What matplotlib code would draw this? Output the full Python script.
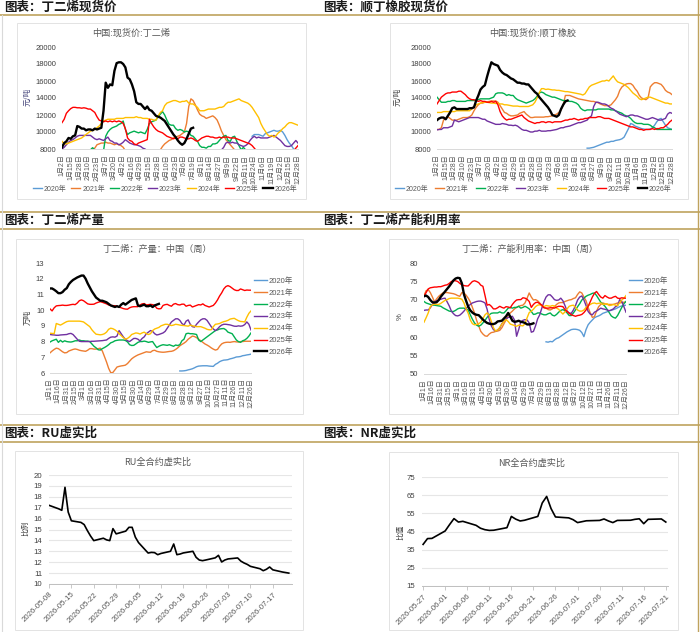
import numpy as np
import pandas as pd
import matplotlib
matplotlib.use("Agg")
import matplotlib.pyplot as plt
from matplotlib.patches import Rectangle
from matplotlib.lines import Line2D

plt.rcParams["font.family"] = ["Liberation Sans", "Noto Sans CJK SC"]
plt.rcParams["axes.unicode_minus"] = False

# ---------------- data ----------------
years = ["2020年", "2021年", "2022年", "2023年", "2024年", "2025年", "2026年"]
year_colors = ["#5B9BD5", "#ED7D31", "#00B050", "#7030A0", "#FFC000", "#FF0000", "#000000"]

price_days = ["1月2日", "1月15日", "1月28日", "2月10日", "2月23日", "3月7日", "3月20日", "4月2日",
              "4月16日", "4月29日", "5月15日", "5月28日", "6月10日", "6月23日", "7月6日", "7月19日",
              "8月1日", "8月14日", "8月27日", "9月9日", "9月22日", "10月11日", "10月24日", "11月6日",
              "11月19日", "12月2日", "12月15日", "12月28日"]
week_days = ["1月1日", "1月16日", "1月31日", "2月15日", "3月1日", "3月16日", "3月31日", "4月15日",
             "4月30日", "5月15日", "5月30日", "6月14日", "6月29日", "7月14日", "7月29日", "8月13日",
             "8月28日", "9月12日", "9月27日", "10月12日", "10月27日", "11月11日", "11月26日",
             "12月11日", "12月26日"]

# 丁二烯现货价 (元/吨), quarter-label steps
bd_2020 = [None] * 80 + [None, None, None, None, None, None, None, 9500, 9700, 9700,
                         9700, 9600, 9500, 9800, 9900, 10000, 10100, 10200, 10100, 10100,
                         10200, 10000, 9600, 9100, 8700, 8400, 8000, 7800, None]
bd_2021 = [None] * 10 + [None, None, None, 7900, 8000, 8100, 8500, 8600, 8700, 8700,
                         8800, 8700, 8700, 8600, 8500, 8600, 8500, 8400, 8200, 7800] + [None] * 10 + \
          [None, None, None, None, None, 7900, 8300, 8600, 8800, 9000,
           9100, 9300, 9400, 9500, 9600, 9800, 10000, 11000, 13000, 13900,
           13700, 13200, 12600, 12100, 11900, 11800, 11600, 11700, 11800, 11900,
           11700, 11400, 10800, 10100, 9600, 9100, 8800, 8500, 8200, 7900] + [None] * 29
bd_2022 = [None] * 10 + [None, None, None, 7900, 8150, 7900, None, None, None, 7800,
                         9500, 10000, 10300, 10500, 10600, 10700, 10900, 11000, 11300, 10300,
                         9700, 9900, 10000, 10100, 10000, 9900, 10000, 9900, 9800, 10300,
                         11000, 11200, 11300, 11400, 11800, 12100, 12400, 12000, 11400, 10900,
                         10800, 10800, 10400, 10200, 10300, 10200, 10000, 10100, 10000, 9600,
                         9500, 9200, 8900, 8400, 8200, 8200, 8100, 8300, 8300, 8600,
                         8600, 8700, 9000, 9300, 9500, 9600, 9000, 8900, 9400, 9500,
                         8900, 8400, 7900, 8200, 7900] + [None] * 24
bd_2023 = [8000, 8200, 8500, 8800, 9000, 9100, 9300, 9500, 9600, 9600,
           9600, 9600, 9600, 9600, 9400, 9200, 9100, 9200, 9100, 9000,
           9200, 9400, 9000, 8900, 8700, 8700, 8500, 8600, 8800, 9100,
           8900, 8700, 8600, 8500, 8500, 8400, 8300, 8100, 8000, 7800] + [None] * 33 + \
          [7900, 8200, 8700, 8800, 8700, 8800, 8700,
           8700, 8500, 8400, 8300, 8400, 8600, 9000, 9300, 9500, 9300,
           9400, 9300, 9300, 9300, 9300, 9400, 9500, 9600, 9400, 9200,
           9000, 8700, 8400, 8300, 8300, 8400, 8700, 9000, 8700]
bd_2024 = [8900, 8600, 8600, 8700, 8800, 8900, 9000, 9100, 9200, 9300,
           9500, 9700, 9900, 10100, 10200, 10300, 10500, 10700, 11000, 11300,
           11400, 11500, 11500, 11500, 11500, 11600, 11600, 11600, 11600, 11700,
           11700, 11700, 11700, 11700, 11800, 11700, 11700, 11600, 11600, 11600,
           11500, 11500, 11400, 11400, 11900, 12300, 12500, 13100, 13400, 13500,
           13600, 13700, 13700, 13600, 13500, 13600, 13600, 13700, 13400, 13300,
           13300, 13100, 12900, 12500, 12500, 12500, 12600, 12700, 12700, 12700,
           12700, 12800, 12900, 12900, 13000, 13300, 13500, 13500, 13600, 13700,
           13800, 13900, 13700, 13600, 13500, 13400, 13200, 12900, 12500, 12100,
           11700, 11000, 10500, 10100, 9700, 9500, 9600, 9400, 9600, 9900,
           10100, 10400, 10600, 10900, 11100, 11100, 11000, 10900, 10800]
bd_2025 = [11100, 11500, 12200, 12500, 12750, 12900, 12900, 12850, 12850, 12800,
           12850, 12800, 12700, 12700, 12500, 12300, 11800, 11400, 11300, 11200,
           11300, 11200, 11300, 11200, 11300, 11200, 11300, 11200, 11000, 10400,
           9300, 9000, 8900, 8600, 8500, 8700, 8800, 8900, 9000, 9100,
           11500, 11000, 10600, 10300, 10100, 10000, 9900, 9700, 9500, 9400,
           9300, 9200, 9300, 9200, 9400, 9400, 9300, 9200, 9200, 9300,
           9200, 9000, 8900, 9100, 9300, 9400, 9500, 9500, 9400, 9400,
           9300, 9300, 9400, 9300, 9400, 9400, 9400, 9300, 9300, 9300,
           9200, 9100, 9000, 8900, 8800, 8700, 8600, 8400, 8100, 7800] + [None] * 16 + [7800, 8100, 8400]
bd_2026 = [8200, 8700, 8900, 9300, 9200, 9500, 9600, 10700, 10600, 10400,
           10400, 10200, 10300, 10300, 10200, 10400, 10300, 10400, 10500, 12500,
           15800, 15200, 15600, 15500, 17200, 18100, 18200, 18200, 18000, 17600,
           16400, 16200, 15600, 14800, 13500, 13300, 13300, 13000, 12700, 13000,
           12600, 12500, 12200, 11900, 11800, 11700, 11500, 11300, 10900, 10500,
           10100, 9700, 9400, 9000, 8700, 8500, 8700, 9200, 9800, 10400, 10500]

# 顺丁橡胶现货价 (元/吨)
br_2020 = [None] * 69 + [8100, 8100, 8150, 8200, 8300, 8400, 8500, 8600, 8700, 8800, 8800,
                         8900, 8900, 9000, 9050, 9100, 9200, 9400, 9900, 10400, 11000,
                         10900, 10700, 10600, 10500, 10400, 10350, 10300, 10300, 10350, 10500,
                         10800, 11200, 11500, 11600, 11200, 10800, 10500, 10400, 10300]
br_2021 = [10300, 10300, 10500, 11400, 11600, 11800, 11600, 11400, 11400, 11400,
           11500, 11600, 11700, 11700, 11700, 11800, 12000, 12500, 12900, 13200,
           13400, 13400, 13500, 13550, 13600, 13650, 13650, 13650, 13500, 13100,
           12700, 12300, 12200, 12000, 11900, 11900, 11950, 12000, 12200, 12300,
           12400, 12100, 11900, 11700, 11700, 11750, 11750, 11750, 11750, 11750,
           11800, 11800, 11850, 11900, 12000, 12100, 12300, 12600, 13200, 14300,
           14300, 14300, 14200, 14100, 14000, 13900, 13850, 13800, 13750, 13700,
           13650, 13600, 13600, 13500, 13450, 13300, 13200, 13100, 13100, 13100,
           13200, 13500, 13800, 14200, 14900, 15300, 15500, 15650, 15700, 15700,
           15500, 15100, 14800, 14300, 14000, 13900, 13800, 14000, 15300, 15600,
           15800, 15800, 15700, 15600, 15300, 14900, 14700, 14600, 14400]
br_2022 = [14100, 13800, 13500, 13500, 13500, 13600, 13600, 13700, 13700, 13600,
           13600, 13600, 13600, 13600, 13700, 13700, 13700, 13700, 13700, 13800,
           13900, 13900, 13900, 13900, 13900, 14000, 14100, 14500, 14600, 14600,
           14600, 14500, 14300, 14400, 14300, 14300, 14000, 13800, 13700, 13600,
           13500, 13400, 13500, 13600, 13700, 13900, 14200, 14600, 14700, 14600,
           14400, 14300, 14200, 14100, 14100, 14000, 13900, 13800, 13700, 13700,
           13700, 13600, 13600, 13500, 13400, 13200, 12800, 12600, 12500, 12600,
           12600, 12600, 12600, 12600, 12700, 12700, 12700, 12700, 12700, 12700,
           12600, 12600, 12500, 12400, 12300, 12200, 12000, 11900, 11800, 11600,
           11300, 11100, 11000, 11000, 11000, 10900, 10900, 10900, 10800, 10600,
           10500, 10300, 10300, 10300, 10300, 10300, 10300, 10300, 10300]
br_2023 = [10250, 10300, 10300, 10500, 10500, 10500, 10600, 10700, 11400, 11300,
           11200, 11300, 11400, 11500, 11600, 11700, 11700, 11700, 11700, 11700,
           11600, 11500, 11500, 11300, 11200, 11100, 11000, 10900, 10900, 10900,
           11000, 10950, 10900, 10800, 10800, 10750, 10800, 10700, 10500, 10300,
           10200, 10200, 10100, 10000, 10000, 10100, 10100, 10200, 10100, 10100,
           10100, 10150, 10150, 10200, 10250, 10300, 10400, 10500, 10500, 10600,
           10650, 10700, 10800, 10900, 11000, 11100, 11100, 11200, 11300, 11400,
           11700, 11900, 13000, 13500, 13500, 13400, 13300, 13300, 13200, 13000,
           12800, 12700, 12500, 12300, 12100, 12000, 11900, 11800, 11900, 12000,
           12000, 11900, 11900, 11800, 11700, 11600, 11500, 11500, 11600, 11700,
           11600, 11500, 11400, 11400, 11500, 11600, 12100, 12300, 12200]
br_2024 = [12300, 12300, 12300, 12400, 12400, 12400, 12400, 12400, 12400, 12500,
           12500, 12500, 12500, 12500, 12500, 12500, 12700, 13000, 13200, 13300,
           13400, 13500, 13500, 13500, 13450, 13400, 13400, 13350, 13400, 13300,
           13300, 13200, 13200, 13150, 13100, 13050, 13050, 13050, 13000, 13000,
           13000, 13000, 13000, 13100, 13200, 13500, 14000, 14600, 15100, 15100,
           15000, 15050, 15000, 14950, 14950, 14900, 14900, 14850, 14800, 14750,
           14750, 14700, 14650, 14600, 14550, 14500, 14450, 14350, 14500, 14900,
           15300, 15500, 15600, 15700, 15800, 15900, 16000, 16000, 16100, 16000,
           16300, 16600, 16200, 15900, 15800, 15700, 15600, 15400, 15200, 14900,
           14600, 14400, 14200, 13900, 13800, 13900, 14000, 14100, 14100, 14000,
           13900, 13800, 13700, 13600, 13500, 13400, 13400, 13300, 13300]
br_2025 = [13300, 13700, 14100, 14300, 14500, 14600, 14600, 14700, 14700, 14700,
           14800, 14800, 14600, 14400, 14100, 13900, 13800, 13800, 13700, 13600,
           13700, 13600, 13600, 13500, 13500, 13600, 13500, 13600, 13200, 12400,
           11900, 11600, 11400, 11500, 11500, 11600, 11700, 11800, 11900, 12000,
           11700, 11500, 11300, 11200, 11100, 11000, 11100, 11100, 11200, 11200,
           11100, 11200, 11200, 11100, 11200, 11200, 11200, 11200, 11300, 11400,
           11400, 11500, 11500, 11600, 11500, 11400, 11500, 11500, 11600, 11600,
           11700, 11700, 11700, 11700, 11800, 11800, 11700, 11600, 11600, 11600,
           11500, 11400, 11300, 11200, 11100, 11000, 10900, 10800, 10700, 10600,
           10600, 10500, 10400, 10300, 10300, 10200, 10300, 10300, 10300, 10400,
           10300, 10400, 10400, 10500, 10500, 10700, 10900, 11200, 11400]
br_2026 = [11400, 11600, 11700, 11700, 11500, 11900, 12300, 12800, 12900, 12700,
           12700, 12700, 12700, 12700, 12700, 12800, 12800, 12900, 13700, 14300,
           15000, 15300, 15500, 16500, 17400, 18200, 18000, 17900, 17800, 17300,
           17000, 16800, 16700, 16500, 16300, 16200, 16000, 15800, 15800, 15700,
           15700, 15600, 15600, 15300, 15000, 14700, 14500, 14100, 13800, 13500,
           13200, 12900, 12500, 12000, 11900, 11800, 12000, 12700, 13200, 13600, 13700]

# 丁二烯产量 (万吨, weekly)
bp_2020 = [None] * 62 + [6.13, 6.13, 6.14, 6.16, 6.2, 6.23, 6.27, 6.33, 6.4, 6.44,
                         6.45, 6.46, 6.46, 6.46, 6.44, 6.43, 6.42, 6.55, 6.62, 6.72,
                         6.78, 6.82, 6.83, 6.85, 6.9, 6.93, 6.97, 7.02, 7.03, 7.05,
                         7.1, 7.12, 7.15, 7.17, 7.2]
bp_2021 = [7.28, 7.4, 7.5, 7.58, 7.55, 7.45, 7.35, 7.28, 7.3, 7.4,
           7.45, 7.5, 7.53, 7.5, 7.45, 7.42, 7.4, 7.38, 7.45, 7.55,
           7.55, 7.52, 7.52, 7.55, 7.58, 7.4, 7.05, 6.7, 6.3, 6.02,
           6.03, 6.2, 6.38, 6.42, 6.45, 6.47, 6.5, 6.6, 6.75, 6.9,
           7.0, 7.08, 7.15, 7.2, 7.25, 7.3, 7.35, 7.33, 7.32, 7.42,
           7.45, 7.38, 7.35, 7.33, 7.32, 7.33, 7.35, 7.37, 7.38, 7.42,
           7.5, 7.6, 7.73, 7.82, 7.9, 8.0, 8.15, 8.25, 8.35, 8.32,
           8.25, 8.15, 8.05, 7.95, 7.85, 7.78, 7.7, 7.6, 7.52, 7.46,
           7.5, 7.7, 7.85, 7.92, 7.95, 7.96, 7.95, 7.98, 8.0, 7.98,
           7.97, 8.0, 8.0, 8.02, 8.02, 8.02, 8.02]
bp_2022 = [7.97, 8.05, 8.1, 8.15, 7.95, 8.08, 7.97, 8.05, 8.0, 7.98,
           7.97, 8.0, 8.05, 8.05, 8.1, 8.05, 8.05, 8.03, 8.03, 8.0,
           7.85, 7.7, 7.6, 7.48, 7.46, 7.55, 7.62, 7.7, 7.8, 7.92,
           7.97, 8.05, 8.08, 8.1, 8.1, 8.1, 8.07, 7.98, 7.8, 7.75,
           7.76, 7.85, 7.95, 8.0, 8.0, 8.03, 8.0, 7.95, 7.98, 8.0,
           7.8, 7.62, 7.7, 7.76, 7.8, 7.78, 7.76, 7.8, 7.75, 7.7,
           7.78, 7.75, 7.8, 8.05, 8.15, 8.5, 8.53, 8.5, 8.5, 8.48,
           8.45, 8.1, 8.0, 8.1, 8.2, 8.3, 8.4, 8.5, 8.6, 8.7,
           8.74, 8.8, 8.82, 8.83, 8.75, 8.6, 8.55, 8.5, 8.3, 8.1,
           8.0, 7.95, 8.05, 8.1, 8.2, 8.35, 8.55]
bp_2023 = [8.45, 8.43, 8.42, 8.4, 8.4, 8.42, 8.43, 8.44, 8.45, 8.5,
           8.52, 8.45, 8.3, 8.15, 8.02, 8.0, 8.0, 8.0, 8.0, 8.0,
           8.02, 8.02, 8.03, 8.04, 8.05, 8.06, 8.08, 8.1, 8.2, 8.28,
           8.3, 8.28, 8.35, 8.7, 8.5, 8.3, 8.15, 8.05, 8.0, 8.1,
           8.2, 8.2, 8.15, 8.04, 8.2, 8.3, 8.5, 8.6, 8.7, 8.65,
           8.5, 8.42, 8.45, 8.5, 8.55, 8.65, 8.85, 9.05, 9.25, 9.35,
           9.45, 9.45, 9.35, 9.15, 9.05, 9.3, 9.38, 9.1, 8.95, 8.92,
           9.1, 9.25, 9.38, 9.45, 9.45, 9.35, 9.15, 8.95, 8.8, 8.7,
           8.8, 8.95, 9.05, 9.1, 9.1, 9.08, 9.06, 9.02, 8.98, 8.97,
           9.0, 8.98, 9.0, 9.08, 9.25, 9.1, 8.74]
bp_2024 = [8.53, 8.52, 8.5, 9.15, 9.1, 9.05, 9.12, 9.2, 9.27, 9.3,
           9.3, 9.3, 9.3, 9.3, 9.3, 9.28, 9.25, 9.15, 9.05, 8.95,
           8.75, 8.6, 8.47, 8.45, 8.43, 8.45, 8.5, 8.6, 8.78, 8.85,
           8.82, 8.75, 8.65, 8.5, 8.38, 8.25, 8.15, 8.2, 8.3, 8.45,
           8.5, 8.55, 8.53, 8.48, 8.55, 8.6, 8.5, 8.45, 8.5, 8.7,
           8.8, 8.85, 8.9, 9.0, 9.05, 9.1, 9.1, 9.05, 9.02, 9.05,
           9.1, 9.08, 9.05, 9.03, 9.02, 9.0, 8.98, 9.05, 9.0, 8.98,
           8.95, 8.95, 8.95, 8.9, 8.85, 8.78, 8.75, 8.75, 8.95, 9.1,
           9.12, 9.15, 9.22, 9.27, 9.3, 9.35, 9.43, 9.46, 9.48, 9.4,
           9.33, 9.28, 9.27, 9.25, 9.55, 9.8, 9.95]
bp_2025 = [10.08, 9.95, 10.15, 10.27, 10.29, 10.3, 10.32, 10.3, 10.3, 10.32,
           10.35, 10.37, 10.35, 10.45, 10.6, 10.65, 10.6, 10.5, 10.4, 10.37,
           10.37, 10.38, 10.45, 10.5, 10.54, 10.5, 10.45, 10.4, 10.33, 10.3,
           10.29, 10.28, 10.25, 10.2, 10.15, 10.1, 10.07, 10.06, 10.15, 10.2,
           10.22, 10.22, 10.22, 10.33, 10.4, 10.42, 10.33, 10.35, 10.37, 10.35,
           10.3, 10.12, 10.08, 10.1, 10.3, 10.35, 10.37, 10.3, 10.25, 10.38,
           10.42, 10.35, 10.33, 10.38, 10.38, 10.25, 10.3, 10.32, 10.2, 10.25,
           10.3, 10.35, 10.33, 10.4, 10.3, 10.25, 10.2, 10.25, 10.3, 10.45,
           10.65, 10.9, 11.1, 11.35, 11.5, 11.56, 11.5, 11.4, 11.3, 11.25,
           11.25, 11.35, 11.3, 11.25, 11.28, 11.27, 11.27]
bp_2026 = [11.38, 11.38, 11.3, 11.2, 11.08, 11.08, 11.15, 11.3, 11.4, 11.65,
           11.8, 11.92, 12.0, 12.08, 12.14, 12.2, 12.2, 12.0, 11.7, 11.45,
           11.2, 11.0, 10.8, 10.7, 10.6, 10.6, 10.55, 10.5, 10.4, 10.3,
           10.25, 10.2, 10.25, 10.2, 10.35, 10.45, 10.35, 10.45, 10.55, 10.65,
           10.7, 10.75, 10.3, 10.25, 10.3, 10.35, 10.25, 10.25, 10.3, 10.2,
           10.3, 10.35, 10.4]

# 丁二烯产能利用率 (%, weekly)
bu_2020 = [None] * 58 + [58.7, 58.6, 58.8, 58.7, 59.2, 59.6, 59.8, 60.2, 60.6, 61.0,
                         61.4, 61.7, 62.0, 62.1, 62.1, 62.0, 61.8, 61.2, 60.1, 62.0,
                         63.3, 64.0, 64.6, 65.2, 65.5, 65.7, 66.0, 66.4, 66.6, 66.8,
                         67.1, 67.2, 67.4, 67.6, 67.9, 68.2, 68.4, 68.5, 68.6]
bu_2021 = [71.2, 72.5, 72.8, 72.0, 70.8, 69.5, 70.3, 71.0, 71.5, 71.9,
           72.0, 72.0, 71.9, 71.8, 71.7, 71.5, 71.2, 71.0, 72.0, 71.9,
           71.3, 70.5, 69.5, 68.0, 66.5, 64.5, 63.0, 61.5, 60.8, 60.3,
           60.2, 60.8, 61.2, 61.3, 61.5, 61.6, 61.8, 62.5, 63.6, 64.6,
           65.8, 66.5, 67.0, 67.6, 68.0, 68.3, 68.5, 68.6, 69.2, 70.5,
           71.9, 70.8, 70.0, 70.1, 69.8, 69.2, 68.4, 68.0, 67.8, 67.4,
           67.3, 67.6, 68.2, 68.8, 69.2, 69.3, 69.3, 69.6, 69.8, 70.0,
           70.1, 70.4, 70.6, 71.5, 72.2, 71.9, 70.8, 69.8, 68.0, 66.5,
           65.3, 65.5, 67.0, 68.2, 68.8, 69.2, 69.0, 68.8, 68.8, 68.8,
           68.8, 69.0, 69.2, 69.2, 69.3, 69.4, 69.5]
bu_2022 = [69.6, 69.2, 69.0, 68.8, 68.6, 68.6, 68.5, 68.4, 68.3, 67.9,
           67.6, 67.3, 67.0, 66.9, 66.9, 67.2, 67.6, 67.8, 67.8, 67.8,
           67.6, 67.3, 66.0, 64.8, 63.8, 63.2, 62.9, 63.2, 63.8, 64.5,
           65.3, 66.0, 66.4, 66.5, 66.5, 66.5, 66.8, 66.5, 66.5, 67.1,
           67.8, 68.0, 67.8, 68.0, 68.0, 68.3, 67.8, 68.0, 68.3, 68.0,
           67.6, 66.9, 66.1, 66.2, 66.5, 66.5, 66.2, 66.0, 66.0, 66.3,
           66.5, 65.9, 65.7, 66.1, 66.7, 67.2, 67.4, 67.1, 66.5, 65.8,
           65.8, 66.5, 67.3, 68.2, 69.0, 70.0, 70.5, 71.0, 71.3, 71.5,
           71.8, 71.9, 71.2, 70.3, 69.4, 68.9, 68.3, 67.5, 66.6, 65.7,
           65.3, 65.1, 65.8, 66.9, 68.0, 69.0, 69.6]
bu_2023 = [67.2, 67.3, 67.3, 67.9, 68.8, 69.5, 69.8, 70.0, 70.2, 70.4,
           70.5, 69.5, 68.4, 67.0, 66.3, 65.8, 65.7, 65.9, 66.4, 67.0,
           67.7, 68.3, 68.8, 69.2, 69.4, 69.6, 69.7, 69.7, 69.5, 69.2,
           67.5, 64.8, 63.0, 62.0, 61.6, 61.9, 62.4, 63.6, 64.3, 64.9,
           65.3, 65.4, 65.6, 64.6, 60.2, 62.0, 64.1, 64.5, 64.7, 64.6,
           63.8, 61.3, 61.5, 63.0, 64.9, 66.0, 67.8, 69.5, 70.8, 71.4,
           71.4, 70.8, 70.1, 69.9, 70.0, 70.5, 69.8, 68.5, 67.0, 66.5,
           66.4, 67.3, 68.5, 70.0, 70.8, 71.1, 70.0, 68.5, 66.9, 66.2,
           66.0, 66.7, 67.0, 67.4, 67.8, 67.6, 67.5, 67.3, 67.1, 67.3,
           67.6, 68.2, 68.5, 70.1, 69.6, 68.2, 66.7]
bu_2024 = [64.0, 65.2, 66.5, 68.2, 68.7, 68.9, 68.8, 68.8, 69.1, 69.5,
           69.9, 70.1, 70.4, 70.5, 70.5, 70.5, 70.5, 70.4, 70.2, 69.2,
           67.6, 66.4, 64.6, 63.6, 63.3, 63.4, 63.6, 64.0, 65.0, 66.0,
           66.5, 65.9, 64.2, 62.5, 61.6, 61.9, 62.6, 63.5, 64.2, 64.7,
           64.2, 63.5, 63.3, 63.1, 62.9, 63.2, 63.1, 63.0, 63.6, 65.2,
           66.6, 67.0, 67.5, 68.2, 68.6, 68.7, 68.5, 68.2, 68.5, 68.4,
           68.3, 68.5, 68.4, 67.8, 67.5, 66.8, 66.2, 66.8, 67.6, 68.3,
           68.5, 68.6, 68.0, 67.3, 67.0, 67.0, 67.3, 68.0, 68.4, 68.8,
           69.1, 69.2, 69.0, 69.1, 69.2, 68.8, 68.9, 69.0, 68.5, 68.6,
           68.8, 68.6, 68.5, 69.3, 70.0, 70.5, 71.2]
bu_2025 = [71.0, 72.0, 73.0, 73.3, 73.4, 73.5, 73.5, 73.6, 73.6, 73.8,
           74.0, 74.1, 74.5, 75.0, 75.2, 75.2, 75.0, 74.5, 74.1, 73.9,
           73.8, 73.8, 74.4, 75.0, 75.2, 75.0, 74.7, 74.0, 73.7, 71.2,
           68.6, 68.8, 68.3, 67.6, 67.6, 67.9, 68.3, 68.0, 67.8, 68.2,
           68.1, 67.9, 68.8, 69.5, 70.0, 70.1, 70.1, 70.6, 70.5, 70.2,
           69.6, 68.0, 68.8, 69.3, 69.4, 69.0, 68.6, 67.9, 67.8, 67.8,
           67.9, 67.9, 67.8, 68.1, 68.3, 68.3, 68.2, 67.4, 66.9, 66.4,
           66.0, 65.8, 65.6, 65.8, 65.9, 66.1, 66.6, 67.3, 68.3, 69.5,
           70.8, 71.8, 72.3, 71.5, 70.8, 70.5, 71.2, 70.8, 70.5, 70.5,
           70.8, 71.0, 70.5, 70.4, 70.6, 70.5, 70.5]
bu_2026 = [71.0, 71.2, 70.8, 70.0, 69.4, 69.3, 69.4, 70.0, 70.9, 71.6,
           72.3, 73.0, 73.7, 74.5, 75.3, 75.8, 76.0, 75.9, 74.5, 71.5,
           69.8, 68.2, 67.2, 66.6, 66.2, 66.0, 65.9, 65.3, 64.7, 64.2,
           63.8, 63.6, 63.5, 63.5, 63.7, 64.2, 64.3, 64.4, 65.0, 65.6,
           66.5, 65.5, 64.4, 64.1, 64.2, 64.4, 64.1, 64.0, 63.8, 63.4,
           63.4, 63.5, 63.7]

# RU全合约虚实比
ru_dates = ["2026-05-08", "2026-05-11", "2026-05-12", "2026-05-13", "2026-05-14", "2026-05-15",
            "2026-05-18", "2026-05-19", "2026-05-20", "2026-05-21", "2026-05-22", "2026-05-25",
            "2026-05-26", "2026-05-27", "2026-05-28", "2026-05-29", "2026-06-01", "2026-06-02",
            "2026-06-03", "2026-06-04", "2026-06-05", "2026-06-08", "2026-06-09", "2026-06-10",
            "2026-06-11", "2026-06-12", "2026-06-15", "2026-06-16", "2026-06-17", "2026-06-18",
            "2026-06-19", "2026-06-22", "2026-06-23", "2026-06-24", "2026-06-25", "2026-06-26",
            "2026-06-29", "2026-06-30", "2026-07-01", "2026-07-02", "2026-07-03", "2026-07-06",
            "2026-07-07", "2026-07-08", "2026-07-09", "2026-07-10", "2026-07-13", "2026-07-14",
            "2026-07-15", "2026-07-16", "2026-07-17", "2026-07-20", "2026-07-21", "2026-07-22"]
ru_ratio = [17.22, 16.9, 16.76, 18.87, 16.6, 15.8, 15.65, 15.45, 14.9, 14.4, 13.98, 14.2,
            14.05, 13.98, 15.08, 14.6, 14.85, 15.2, 15.2, 14.3, 13.8, 12.84, 12.9, 12.88,
            12.69, 12.8, 13.0, 13.67, 12.69, 12.75, 12.85, 13.0, 12.45, 12.2, 12.14, 12.2,
            12.4, 12.63, 12.02, 12.2, 12.3, 12.39, 12.1, 11.93, 11.8, 11.62, 11.4, 11.22,
            11.35, 11.56, 11.3, 11.1, 11.05, 11.0]
ru_ticks = ["2026-05-08", "2026-05-15", "2026-05-22", "2026-05-29", "2026-06-05", "2026-06-12",
            "2026-06-19", "2026-06-26", "2026-07-03", "2026-07-10", "2026-07-17"]

# NR全合约虚实比
nr_dates = ["2026-05-27", "2026-05-28", "2026-05-29", "2026-06-01", "2026-06-02", "2026-06-03",
            "2026-06-04", "2026-06-05", "2026-06-08", "2026-06-09", "2026-06-10", "2026-06-11",
            "2026-06-12", "2026-06-15", "2026-06-16", "2026-06-17", "2026-06-18", "2026-06-19",
            "2026-06-22", "2026-06-23", "2026-06-24", "2026-06-25", "2026-06-26", "2026-06-29",
            "2026-06-30", "2026-07-01", "2026-07-02", "2026-07-03", "2026-07-06", "2026-07-07",
            "2026-07-08", "2026-07-09", "2026-07-10", "2026-07-13", "2026-07-14", "2026-07-15",
            "2026-07-16", "2026-07-17", "2026-07-20", "2026-07-21"]
nr_ratio = [37.9, 41.1, 41.2, 45.3, 48.8, 52.1, 50.2, 50.6, 48.4, 46.8, 46.0, 45.6, 45.7,
            47.1, 53.3, 51.8, 50.8, 51.2, 53.3, 60.7, 64.3, 57.6, 53.0, 52.5, 51.5, 49.9,
            50.4, 50.9, 51.1, 51.9, 50.8, 49.9, 51.1, 51.2, 51.7, 52.0, 49.3, 51.7, 51.9, 50.2]
nr_ticks = ["2026-05-27", "2026-06-01", "2026-06-06", "2026-06-11", "2026-06-16", "2026-06-21",
            "2026-06-26", "2026-07-01", "2026-07-06", "2026-07-11", "2026-07-16", "2026-07-21"]

# ---------------- layout ----------------
W, H = 700, 632
fig = plt.figure(figsize=(W / 100, H / 100), dpi=100)
gold = "#bfa35e"
txt = "#595959"
cjk = ["Noto Sans CJK SC", "DejaVu Sans"]


def fx(x):
    return x / W


def fy(y):
    return 1 - y / H


def rect(l, t, r, b):
    return [l / W, 1 - b / H, (r - l) / W, (b - t) / H]


def hline(y, color=gold, lw=1.2):
    fig.add_artist(Line2D([0, 1], [fy(y), fy(y)], color=color, lw=lw, transform=fig.transFigure))


def chart_box(l, t, r, b):
    fig.add_artist(Rectangle((fx(l), fy(b)), (r - l) / W, (b - t) / H, transform=fig.transFigure,
                             fill=False, ec="#e3e3e3", lw=0.7))


# section headers
for y in [15, 211.5, 228.5, 424.5, 441.5]:
    hline(y)
fig.add_artist(Line2D([fx(1.5), fx(1.5)], [0, fy(15)], color="#d9d9d9", lw=0.8, transform=fig.transFigure))
fig.add_artist(Line2D([fx(697.5), fx(697.5)], [0, 1], color=gold, lw=1.0, transform=fig.transFigure))
heads = [(4, 7.5, "图表：丁二烯现货价"), (323, 7.5, "图表：顺丁橡胶现货价"),
         (4, 220.5, "图表：丁二烯产量"), (323, 220.5, "图表：丁二烯产能利用率"),
         (4, 433.5, "图表：RU虚实比"), (323, 433.5, "图表：NR虚实比")]
for x, y, s in heads:
    fig.text(fx(x), fy(y), s, fontsize=9, fontweight="bold", family=cjk, va="center", color="#1a1a1a")

for b in [(17, 23, 306, 199), (390, 23, 688, 199), (16, 239, 303, 414),
          (389, 239, 678, 414), (15, 451, 303, 630), (389, 452, 678, 630)]:
    chart_box(*b)


def seasonal(ax, series, labels, ylim, yticks, lab_pad):
    for i, v in enumerate(series):
        y = np.array(v, dtype=float)
        x = np.arange(len(y)) / 4
        ax.plot(x, y, color=year_colors[i], lw=1.7 if i == 6 else 1.0, label=years[i],
                solid_joinstyle="round", zorder=2 + i)
    ax.set_xlim(0, len(labels) - 1)
    ax.set_ylim(*ylim)
    ax.set_yticks(yticks)
    ax.set_xticks(range(len(labels)))
    ax.set_xticklabels(labels, rotation=90, fontsize=5, color=txt)
    ax.tick_params(axis="x", length=0, pad=lab_pad)
    ax.tick_params(axis="y", length=0, pad=4, labelsize=5.5, labelcolor="#404040")
    for s in ["top", "right", "left"]:
        ax.spines[s].set_visible(False)
    ax.spines["bottom"].set_color("#d9d9d9")
    ax.spines["bottom"].set_linewidth(0.7)
    ax.patch.set_alpha(0)


# chart 1
ax1 = fig.add_axes(rect(62, 47, 298, 149))
seasonal(ax1, [bd_2020, bd_2021, bd_2022, bd_2023, bd_2024, bd_2025, bd_2026], price_days,
         (8000, 20000), range(8000, 20001, 2000), 4)
fig.text(fx(131), fy(33), "中国:现货价:丁二烯", fontsize=6.6, family=cjk, color=txt, ha="center", va="center")
fig.text(fx(27), fy(97), "元/吨", fontsize=5.5, family=cjk, color="#44447a", rotation=90, ha="center", va="center")
ax1.legend(loc="center", bbox_to_anchor=(fx(165), fy(189)), bbox_transform=fig.transFigure, ncol=7,
           fontsize=5, frameon=False, handlelength=1.3, handletextpad=0.25, columnspacing=0.7,
           labelcolor=txt, borderpad=0)

# chart 2
ax2 = fig.add_axes(rect(437, 47, 672, 149))
seasonal(ax2, [br_2020, br_2021, br_2022, br_2023, br_2024, br_2025, br_2026], price_days,
         (8000, 20000), range(8000, 20001, 2000), 4)
fig.text(fx(533), fy(33), "中国:现货价:顺丁橡胶", fontsize=6.6, family=cjk, color=txt, ha="center", va="center")
fig.text(fx(397), fy(97), "元/吨", fontsize=5.5, family=cjk, color="#404040", rotation=90, ha="center", va="center")
ax2.legend(loc="center", bbox_to_anchor=(fx(533), fy(189)), bbox_transform=fig.transFigure, ncol=7,
           fontsize=5, frameon=False, handlelength=1.3, handletextpad=0.25, columnspacing=1.0,
           labelcolor=txt, borderpad=0)

# chart 3
ax3 = fig.add_axes(rect(50, 263, 251, 373))
seasonal(ax3, [bp_2020, bp_2021, bp_2022, bp_2023, bp_2024, bp_2025, bp_2026], week_days,
         (6, 13), range(6, 14), 3.5)
fig.text(fx(157), fy(249), "丁二烯：产量：中国（周）", fontsize=6.6, family=cjk, color=txt, ha="center", va="center")
fig.text(fx(28), fy(317), "万吨", fontsize=5.5, family=cjk, color="#404040", rotation=90, ha="center", va="center")
ax3.legend(loc="upper left", bbox_to_anchor=(fx(254), fy(277)), bbox_transform=fig.transFigure, ncol=1,
           fontsize=5.5, frameon=False, handlelength=1.7, handletextpad=0.2, labelspacing=0.55,
           labelcolor=txt, borderpad=0, borderaxespad=0)

# chart 4
ax4 = fig.add_axes(rect(424, 263, 626, 374))
seasonal(ax4, [bu_2020, bu_2021, bu_2022, bu_2023, bu_2024, bu_2025, bu_2026], week_days,
         (50, 80), range(50, 81, 5), 3.5)
fig.text(fx(530), fy(249), "丁二烯：产能利用率：中国（周）", fontsize=6.6, family=cjk, color=txt, ha="center", va="center")
fig.text(fx(400), fy(317), "%", fontsize=5.5, color="#404040", rotation=90, ha="center", va="center")
ax4.legend(loc="upper left", bbox_to_anchor=(fx(629), fy(277)), bbox_transform=fig.transFigure, ncol=1,
           fontsize=5.5, frameon=False, handlelength=1.7, handletextpad=0.2, labelspacing=0.55,
           labelcolor=txt, borderpad=0, borderaxespad=0)


def ratio_chart(ax, dates, vals, ticks, lim, ylim, yticks):
    d = pd.to_datetime(dates)
    ax.plot(d, vals, color="#000000", lw=1.2, solid_joinstyle="round")
    ax.set_xlim(pd.Timestamp(lim[0]), pd.Timestamp(lim[1]))
    ax.set_ylim(*ylim)
    ax.set_yticks(yticks)
    ax.set_xticks(pd.to_datetime(ticks))
    ax.set_xticklabels(ticks, rotation=45, ha="right", rotation_mode="anchor", fontsize=5.6, color=txt)
    ax.tick_params(axis="x", length=3, width=0.6, color="#bfbfbf", pad=2)
    ax.tick_params(axis="y", length=0, pad=5, labelsize=5.6, labelcolor="#404040")
    ax.grid(axis="y", color="#e6e6e6", lw=0.8)
    ax.set_axisbelow(True)
    for s in ["top", "right", "left"]:
        ax.spines[s].set_visible(False)
    ax.spines["bottom"].set_color("#bfbfbf")
    ax.spines["bottom"].set_linewidth(0.7)
    ax.patch.set_alpha(0)


# chart 5
ax5 = fig.add_axes(rect(49, 475, 292, 584))
ratio_chart(ax5, ru_dates, ru_ratio, ru_ticks, ("2026-05-08", "2026-07-23"), (10, 20), range(10, 21))
fig.text(fx(158), fy(462), "RU全合约虚实比", fontsize=6.6, family=cjk, color=txt, ha="center", va="center")
fig.text(fx(25), fy(528), "比例", fontsize=5.5, family=cjk, color="#404040", rotation=90, ha="center", va="center")

# chart 6
ax6 = fig.add_axes(rect(422, 477, 668, 586))
ratio_chart(ax6, nr_dates, nr_ratio, nr_ticks, ("2026-05-26 18:00", "2026-07-21 12:00"), (15, 75), range(15, 76, 10))
fig.text(fx(532), fy(463), "NR全合约虚实比", fontsize=6.6, family=cjk, color=txt, ha="center", va="center")
fig.text(fx(400), fy(532), "比值", fontsize=5.5, family=cjk, color="#404040", rotation=90, ha="center", va="center")

fig.savefig("out.png", dpi=100)
